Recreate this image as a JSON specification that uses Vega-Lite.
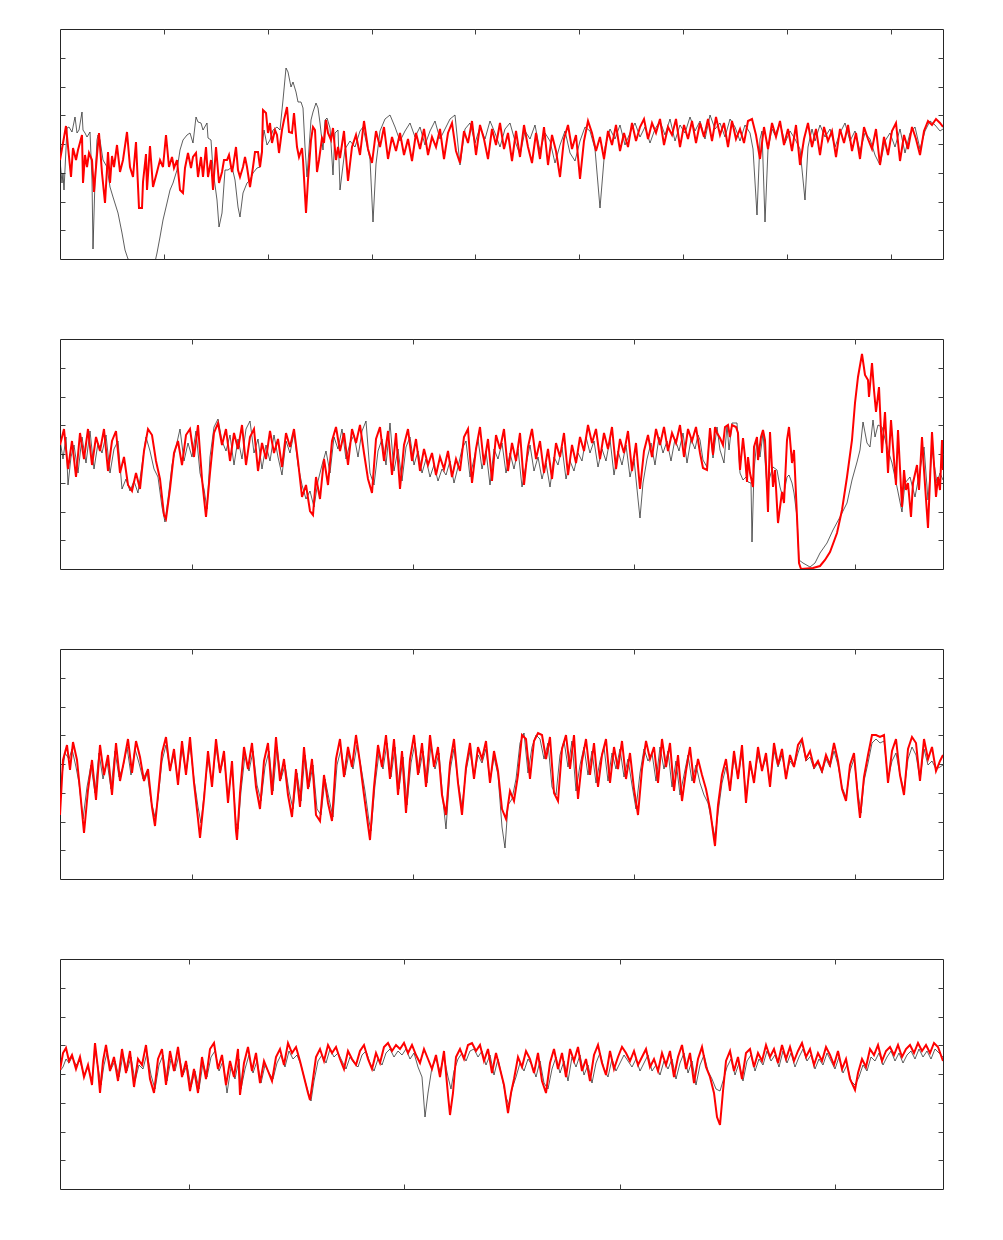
{
"$schema":"https://vega.github.io/schema/vega-lite/v6.json",
"autosize":{"type":"pad"},
"padding":{"left":59,"top":28,"right":0,"bottom":0},
"background":"white",
"spacing":78,
"config":{"view":{"stroke":"#262626","strokeWidth":1},"axis":{"labels":false,"domain":false,"grid":false,"ticks":true,"tickSize":-5,"tickColor":"#404040","tickWidth":1,"minExtent":0}},
"datasets":{
"k1":[{"x":0,"h":99},{"x":2,"h":76},{"x":3,"h":86},{"x":4,"h":69},{"x":7,"h":131},{"x":9,"h":132},{"x":12,"h":127},{"x":15,"h":142},{"x":17,"h":126},{"x":19,"h":129},{"x":22,"h":147},{"x":23,"h":129},{"x":25,"h":126},{"x":27,"h":122},{"x":30,"h":127},{"x":32,"h":79},{"x":33,"h":10},{"x":35,"h":79},{"x":37,"h":119},{"x":38,"h":124},{"x":40,"h":119},{"x":43,"h":99},{"x":47,"h":92},{"x":50,"h":72},{"x":53,"h":62},{"x":58,"h":46},{"x":62,"h":26},{"x":65,"h":9},{"x":68,"h":0},{"x":75,"h":-5},{"x":85,"h":-6},{"x":95,"h":-3},{"x":97,"h":6},{"x":100,"h":22},{"x":103,"h":39},{"x":107,"h":56},{"x":110,"h":69},{"x":113,"h":76},{"x":117,"h":89},{"x":120,"h":109},{"x":123,"h":119},{"x":127,"h":124},{"x":130,"h":126},{"x":133,"h":116},{"x":136,"h":142},{"x":138,"h":137},{"x":141,"h":136},{"x":143,"h":129},{"x":147,"h":136},{"x":148,"h":121},{"x":151,"h":119},{"x":153,"h":89},{"x":157,"h":59},{"x":159,"h":32},{"x":162,"h":46},{"x":165,"h":89},{"x":168,"h":89},{"x":172,"h":92},{"x":175,"h":79},{"x":178,"h":52},{"x":180,"h":42},{"x":183,"h":66},{"x":187,"h":76},{"x":190,"h":79},{"x":193,"h":86},{"x":197,"h":91},{"x":200,"h":92},{"x":202,"h":112},{"x":204,"h":129},{"x":207,"h":114},{"x":210,"h":119},{"x":213,"h":129},{"x":217,"h":132},{"x":220,"h":129},{"x":223,"h":159},{"x":226,"h":191},{"x":228,"h":187},{"x":231,"h":172},{"x":233,"h":177},{"x":236,"h":167},{"x":238,"h":157},{"x":241,"h":157},{"x":243,"h":151},{"x":245,"h":112},{"x":247,"h":82},{"x":248,"h":96},{"x":251,"h":139},{"x":253,"h":147},{"x":256,"h":156},{"x":258,"h":151},{"x":260,"h":136},{"x":263,"h":109},{"x":265,"h":139},{"x":267,"h":141},{"x":270,"h":131},{"x":273,"h":84},{"x":275,"h":126},{"x":278,"h":129},{"x":280,"h":69},{"x":285,"h":110},{"x":290,"h":118},{"x":295,"h":112},{"x":300,"h":128},{"x":303,"h":132},{"x":306,"h":118},{"x":310,"h":100},{"x":313,"h":37},{"x":316,"h":95},{"x":320,"h":128},{"x":325,"h":140},{"x":330,"h":144},{"x":335,"h":132},{"x":340,"h":118},{"x":345,"h":128},{"x":350,"h":136},{"x":355,"h":122},{"x":360,"h":132},{"x":365,"h":114},{"x":370,"h":128},{"x":375,"h":138},{"x":380,"h":120},{"x":385,"h":130},{"x":390,"h":140},{"x":395,"h":144},{"x":400,"h":94},{"x":405,"h":130},{"x":410,"h":136},{"x":415,"h":116},{"x":420,"h":132},{"x":425,"h":120},{"x":430,"h":138},{"x":435,"h":126},{"x":440,"h":112},{"x":445,"h":130},{"x":450,"h":136},{"x":455,"h":118},{"x":460,"h":104},{"x":465,"h":128},{"x":470,"h":120},{"x":475,"h":134},{"x":480,"h":108},{"x":485,"h":126},{"x":490,"h":118},{"x":495,"h":96},{"x":500,"h":114},{"x":505,"h":128},{"x":510,"h":106},{"x":515,"h":98},{"x":520,"h":118},{"x":525,"h":132},{"x":530,"h":128},{"x":535,"h":110},{"x":540,"h":51},{"x":545,"h":112},{"x":550,"h":130},{"x":555,"h":120},{"x":560,"h":134},{"x":565,"h":114},{"x":570,"h":126},{"x":575,"h":136},{"x":580,"h":122},{"x":585,"h":132},{"x":590,"h":116},{"x":595,"h":130},{"x":600,"h":138},{"x":605,"h":124},{"x":610,"h":140},{"x":615,"h":118},{"x":620,"h":134},{"x":625,"h":126},{"x":630,"h":142},{"x":635,"h":128},{"x":640,"h":138},{"x":645,"h":120},{"x":650,"h":144},{"x":655,"h":130},{"x":660,"h":136},{"x":665,"h":122},{"x":670,"h":140},{"x":675,"h":132},{"x":680,"h":118},{"x":685,"h":134},{"x":690,"h":126},{"x":693,"h":110},{"x":697,"h":44},{"x":700,"h":120},{"x":702,"h":128},{"x":705,"h":37},{"x":708,"h":110},{"x":712,"h":130},{"x":715,"h":124},{"x":720,"h":136},{"x":725,"h":116},{"x":730,"h":128},{"x":735,"h":120},{"x":740,"h":110},{"x":745,"h":59},{"x":748,"h":112},{"x":752,"h":130},{"x":755,"h":118},{"x":760,"h":134},{"x":765,"h":122},{"x":770,"h":130},{"x":775,"h":112},{"x":780,"h":126},{"x":785,"h":136},{"x":790,"h":118},{"x":795,"h":128},{"x":800,"h":108},{"x":805,"h":126},{"x":810,"h":120},{"x":815,"h":104},{"x":820,"h":94},{"x":825,"h":118},{"x":830,"h":126},{"x":835,"h":112},{"x":840,"h":130},{"x":845,"h":106},{"x":850,"h":126},{"x":855,"h":132},{"x":860,"h":110},{"x":865,"h":128},{"x":870,"h":138},{"x":875,"h":134},{"x":880,"h":128},{"x":883,"h":130}],
"r1":[{"x":0,"h":99},{"x":6,"h":133},{"x":11,"h":82},{"x":13,"h":111},{"x":16,"h":99},{"x":18,"h":109},{"x":22,"h":124},{"x":23,"h":76},{"x":25,"h":104},{"x":27,"h":92},{"x":29,"h":106},{"x":32,"h":99},{"x":34,"h":67},{"x":37,"h":104},{"x":39,"h":126},{"x":42,"h":86},{"x":45,"h":56},{"x":48,"h":107},{"x":50,"h":76},{"x":52,"h":103},{"x":54,"h":92},{"x":57,"h":114},{"x":60,"h":87},{"x":63,"h":99},{"x":67,"h":127},{"x":70,"h":92},{"x":73,"h":82},{"x":76,"h":117},{"x":79,"h":51},{"x":82,"h":51},{"x":83,"h":77},{"x":86,"h":105},{"x":87,"h":69},{"x":90,"h":113},{"x":93,"h":72},{"x":97,"h":87},{"x":100,"h":99},{"x":103,"h":92},{"x":106,"h":124},{"x":109,"h":92},{"x":112,"h":102},{"x":114,"h":91},{"x":117,"h":99},{"x":120,"h":69},{"x":123,"h":66},{"x":125,"h":91},{"x":128,"h":106},{"x":131,"h":91},{"x":133,"h":102},{"x":136,"h":106},{"x":138,"h":82},{"x":141,"h":102},{"x":143,"h":82},{"x":146,"h":112},{"x":148,"h":82},{"x":151,"h":99},{"x":153,"h":69},{"x":156,"h":112},{"x":159,"h":76},{"x":162,"h":87},{"x":164,"h":99},{"x":167,"h":99},{"x":169,"h":104},{"x":172,"h":87},{"x":173,"h":92},{"x":176,"h":112},{"x":178,"h":89},{"x":180,"h":82},{"x":183,"h":92},{"x":185,"h":102},{"x":187,"h":92},{"x":190,"h":72},{"x":193,"h":92},{"x":195,"h":107},{"x":198,"h":107},{"x":200,"h":92},{"x":202,"h":107},{"x":203,"h":149},{"x":206,"h":146},{"x":208,"h":126},{"x":210,"h":136},{"x":212,"h":116},{"x":215,"h":129},{"x":217,"h":124},{"x":219,"h":106},{"x":222,"h":129},{"x":224,"h":139},{"x":227,"h":152},{"x":229,"h":127},{"x":232,"h":126},{"x":234,"h":146},{"x":237,"h":112},{"x":239,"h":102},{"x":242,"h":111},{"x":243,"h":99},{"x":246,"h":46},{"x":248,"h":79},{"x":251,"h":119},{"x":253,"h":132},{"x":255,"h":129},{"x":257,"h":87},{"x":259,"h":99},{"x":262,"h":121},{"x":264,"h":116},{"x":266,"h":139},{"x":268,"h":126},{"x":271,"h":119},{"x":273,"h":131},{"x":276,"h":99},{"x":278,"h":112},{"x":280,"h":101},{"x":284,"h":128},{"x":288,"h":78},{"x":292,"h":112},{"x":296,"h":124},{"x":300,"h":104},{"x":304,"h":138},{"x":308,"h":110},{"x":312,"h":96},{"x":316,"h":128},{"x":320,"h":112},{"x":324,"h":132},{"x":328,"h":100},{"x":332,"h":122},{"x":336,"h":108},{"x":340,"h":126},{"x":344,"h":104},{"x":348,"h":120},{"x":352,"h":98},{"x":356,"h":126},{"x":360,"h":110},{"x":364,"h":130},{"x":368,"h":104},{"x":372,"h":122},{"x":376,"h":112},{"x":380,"h":130},{"x":384,"h":100},{"x":388,"h":126},{"x":392,"h":136},{"x":396,"h":108},{"x":400,"h":96},{"x":404,"h":128},{"x":408,"h":116},{"x":412,"h":138},{"x":416,"h":104},{"x":420,"h":134},{"x":424,"h":120},{"x":428,"h":100},{"x":432,"h":130},{"x":436,"h":114},{"x":440,"h":136},{"x":444,"h":110},{"x":448,"h":126},{"x":452,"h":98},{"x":456,"h":128},{"x":460,"h":102},{"x":464,"h":134},{"x":468,"h":112},{"x":472,"h":96},{"x":476,"h":126},{"x":480,"h":100},{"x":484,"h":132},{"x":488,"h":94},{"x":492,"h":124},{"x":496,"h":108},{"x":500,"h":82},{"x":504,"h":120},{"x":508,"h":134},{"x":512,"h":110},{"x":516,"h":124},{"x":520,"h":80},{"x":524,"h":118},{"x":528,"h":138},{"x":532,"h":126},{"x":536,"h":108},{"x":540,"h":122},{"x":544,"h":100},{"x":548,"h":128},{"x":552,"h":114},{"x":556,"h":134},{"x":560,"h":108},{"x":564,"h":126},{"x":568,"h":112},{"x":572,"h":136},{"x":576,"h":118},{"x":580,"h":132},{"x":584,"h":140},{"x":588,"h":120},{"x":592,"h":136},{"x":596,"h":126},{"x":600,"h":140},{"x":604,"h":114},{"x":608,"h":132},{"x":612,"h":124},{"x":616,"h":140},{"x":620,"h":112},{"x":624,"h":134},{"x":628,"h":120},{"x":632,"h":138},{"x":636,"h":116},{"x":640,"h":136},{"x":644,"h":122},{"x":648,"h":140},{"x":652,"h":118},{"x":656,"h":142},{"x":660,"h":124},{"x":664,"h":136},{"x":668,"h":112},{"x":672,"h":138},{"x":676,"h":120},{"x":680,"h":130},{"x":684,"h":116},{"x":688,"h":138},{"x":692,"h":140},{"x":696,"h":124},{"x":700,"h":100},{"x":704,"h":132},{"x":708,"h":110},{"x":712,"h":136},{"x":716,"h":122},{"x":720,"h":138},{"x":724,"h":114},{"x":728,"h":130},{"x":732,"h":108},{"x":736,"h":134},{"x":740,"h":94},{"x":744,"h":120},{"x":748,"h":136},{"x":752,"h":112},{"x":756,"h":130},{"x":760,"h":104},{"x":764,"h":132},{"x":768,"h":118},{"x":772,"h":128},{"x":776,"h":102},{"x":780,"h":130},{"x":784,"h":116},{"x":788,"h":134},{"x":792,"h":108},{"x":796,"h":126},{"x":800,"h":100},{"x":804,"h":132},{"x":808,"h":120},{"x":812,"h":110},{"x":816,"h":130},{"x":820,"h":94},{"x":824,"h":122},{"x":828,"h":104},{"x":832,"h":128},{"x":836,"h":136},{"x":840,"h":98},{"x":844,"h":124},{"x":848,"h":110},{"x":852,"h":132},{"x":856,"h":120},{"x":860,"h":104},{"x":864,"h":128},{"x":868,"h":138},{"x":872,"h":134},{"x":876,"h":140},{"x":880,"h":136},{"x":883,"h":132}],
"k2":[{"x":0,"h":129},{"x":3,"h":110},{"x":6,"h":132},{"x":8,"h":84},{"x":11,"h":112},{"x":14,"h":124},{"x":18,"h":96},{"x":22,"h":132},{"x":26,"h":106},{"x":30,"h":138},{"x":34,"h":100},{"x":38,"h":126},{"x":42,"h":116},{"x":46,"h":134},{"x":50,"h":96},{"x":54,"h":120},{"x":58,"h":128},{"x":62,"h":80},{"x":66,"h":90},{"x":70,"h":78},{"x":74,"h":88},{"x":78,"h":76},{"x":82,"h":104},{"x":86,"h":132},{"x":90,"h":118},{"x":94,"h":100},{"x":98,"h":92},{"x":102,"h":62},{"x":105,"h":47},{"x":108,"h":70},{"x":112,"h":104},{"x":116,"h":122},{"x":120,"h":140},{"x":124,"h":108},{"x":128,"h":126},{"x":132,"h":112},{"x":136,"h":138},{"x":140,"h":96},{"x":144,"h":80},{"x":147,"h":60},{"x":150,"h":112},{"x":154,"h":142},{"x":158,"h":150},{"x":162,"h":128},{"x":166,"h":118},{"x":170,"h":134},{"x":174,"h":104},{"x":178,"h":130},{"x":182,"h":110},{"x":186,"h":140},{"x":190,"h":148},{"x":194,"h":116},{"x":198,"h":130},{"x":202,"h":100},{"x":206,"h":124},{"x":210,"h":108},{"x":214,"h":134},{"x":218,"h":112},{"x":222,"h":94},{"x":226,"h":128},{"x":230,"h":116},{"x":234,"h":136},{"x":238,"h":104},{"x":242,"h":84},{"x":246,"h":70},{"x":250,"h":78},{"x":254,"h":62},{"x":258,"h":88},{"x":262,"h":104},{"x":266,"h":118},{"x":270,"h":96},{"x":274,"h":132},{"x":278,"h":120},{"x":282,"h":140},{"x":286,"h":110},{"x":290,"h":126},{"x":294,"h":134},{"x":298,"h":112},{"x":302,"h":138},{"x":306,"h":148},{"x":310,"h":96},{"x":314,"h":84},{"x":318,"h":118},{"x":322,"h":130},{"x":326,"h":104},{"x":330,"h":146},{"x":334,"h":98},{"x":338,"h":120},{"x":342,"h":88},{"x":346,"h":122},{"x":350,"h":132},{"x":354,"h":104},{"x":358,"h":118},{"x":362,"h":96},{"x":366,"h":110},{"x":370,"h":92},{"x":374,"h":104},{"x":378,"h":88},{"x":382,"h":100},{"x":386,"h":94},{"x":390,"h":108},{"x":394,"h":86},{"x":398,"h":102},{"x":402,"h":120},{"x":406,"h":128},{"x":410,"h":92},{"x":414,"h":110},{"x":418,"h":130},{"x":422,"h":100},{"x":426,"h":118},{"x":430,"h":84},{"x":434,"h":120},{"x":438,"h":110},{"x":442,"h":126},{"x":446,"h":96},{"x":450,"h":116},{"x":454,"h":100},{"x":458,"h":120},{"x":462,"h":82},{"x":466,"h":104},{"x":470,"h":124},{"x":474,"h":98},{"x":478,"h":112},{"x":482,"h":90},{"x":486,"h":106},{"x":490,"h":82},{"x":494,"h":112},{"x":498,"h":104},{"x":502,"h":122},{"x":506,"h":90},{"x":510,"h":108},{"x":514,"h":98},{"x":518,"h":116},{"x":522,"h":108},{"x":526,"h":132},{"x":530,"h":116},{"x":534,"h":128},{"x":538,"h":102},{"x":542,"h":120},{"x":546,"h":108},{"x":550,"h":130},{"x":554,"h":94},{"x":558,"h":118},{"x":562,"h":104},{"x":566,"h":124},{"x":570,"h":92},{"x":574,"h":110},{"x":578,"h":70},{"x":580,"h":51},{"x":583,"h":86},{"x":587,"h":110},{"x":591,"h":126},{"x":595,"h":104},{"x":599,"h":132},{"x":603,"h":116},{"x":607,"h":128},{"x":611,"h":108},{"x":615,"h":130},{"x":619,"h":118},{"x":623,"h":136},{"x":627,"h":106},{"x":631,"h":130},{"x":635,"h":120},{"x":638,"h":134},{"x":640,"h":129},{"x":643,"h":109},{"x":647,"h":102},{"x":650,"h":139},{"x":653,"h":111},{"x":657,"h":142},{"x":660,"h":119},{"x":664,"h":106},{"x":667,"h":144},{"x":669,"h":119},{"x":672,"h":146},{"x":677,"h":146},{"x":680,"h":96},{"x":683,"h":89},{"x":686,"h":92},{"x":688,"h":87},{"x":691,"h":86},{"x":692,"h":27},{"x":694,"h":99},{"x":697,"h":129},{"x":700,"h":112},{"x":703,"h":136},{"x":707,"h":82},{"x":711,"h":96},{"x":713,"h":102},{"x":717,"h":99},{"x":720,"h":82},{"x":723,"h":71},{"x":727,"h":92},{"x":729,"h":94},{"x":732,"h":86},{"x":734,"h":76},{"x":737,"h":52},{"x":739,"h":9},{"x":743,"h":6},{"x":750,"h":2},{"x":755,"h":6},{"x":760,"h":16},{"x":767,"h":26},{"x":773,"h":39},{"x":780,"h":52},{"x":787,"h":66},{"x":792,"h":89},{"x":797,"h":107},{"x":800,"h":119},{"x":803,"h":147},{"x":807,"h":126},{"x":810,"h":122},{"x":813,"h":149},{"x":815,"h":132},{"x":818,"h":144},{"x":822,"h":142},{"x":827,"h":122},{"x":832,"h":106},{"x":837,"h":82},{"x":842,"h":57},{"x":845,"h":86},{"x":850,"h":92},{"x":855,"h":72},{"x":860,"h":99},{"x":864,"h":122},{"x":868,"h":69},{"x":872,"h":119},{"x":877,"h":86},{"x":880,"h":96},{"x":883,"h":89}],
"r2":[{"x":0,"h":124},{"x":4,"h":140},{"x":8,"h":100},{"x":12,"h":128},{"x":16,"h":92},{"x":20,"h":136},{"x":24,"h":110},{"x":28,"h":140},{"x":32,"h":104},{"x":36,"h":132},{"x":40,"h":118},{"x":44,"h":140},{"x":48,"h":98},{"x":52,"h":128},{"x":56,"h":138},{"x":60,"h":96},{"x":64,"h":112},{"x":68,"h":84},{"x":72,"h":78},{"x":76,"h":96},{"x":80,"h":80},{"x":84,"h":118},{"x":88,"h":140},{"x":92,"h":134},{"x":96,"h":108},{"x":100,"h":90},{"x":104,"h":54},{"x":106,"h":50},{"x":110,"h":80},{"x":114,"h":116},{"x":118,"h":128},{"x":122,"h":104},{"x":126,"h":134},{"x":130,"h":140},{"x":134,"h":112},{"x":138,"h":144},{"x":142,"h":90},{"x":146,"h":52},{"x":150,"h":96},{"x":154,"h":136},{"x":158,"h":146},{"x":162,"h":124},{"x":166,"h":140},{"x":170,"h":108},{"x":174,"h":136},{"x":178,"h":120},{"x":182,"h":144},{"x":186,"h":104},{"x":190,"h":132},{"x":194,"h":140},{"x":198,"h":98},{"x":202,"h":126},{"x":206,"h":110},{"x":210,"h":138},{"x":214,"h":116},{"x":218,"h":130},{"x":222,"h":102},{"x":226,"h":136},{"x":230,"h":122},{"x":234,"h":140},{"x":238,"h":108},{"x":242,"h":72},{"x":246,"h":84},{"x":250,"h":58},{"x":253,"h":54},{"x":256,"h":92},{"x":260,"h":70},{"x":264,"h":110},{"x":268,"h":84},{"x":272,"h":128},{"x":276,"h":142},{"x":280,"h":118},{"x":284,"h":136},{"x":288,"h":104},{"x":292,"h":140},{"x":296,"h":126},{"x":300,"h":144},{"x":304,"h":116},{"x":308,"h":90},{"x":312,"h":76},{"x":316,"h":130},{"x":320,"h":142},{"x":324,"h":108},{"x":328,"h":138},{"x":332,"h":94},{"x":336,"h":136},{"x":340,"h":80},{"x":344,"h":124},{"x":348,"h":140},{"x":352,"h":108},{"x":356,"h":130},{"x":360,"h":98},{"x":364,"h":120},{"x":368,"h":104},{"x":372,"h":116},{"x":376,"h":94},{"x":380,"h":112},{"x":384,"h":100},{"x":388,"h":118},{"x":392,"h":92},{"x":396,"h":110},{"x":400,"h":98},{"x":404,"h":132},{"x":408,"h":140},{"x":412,"h":86},{"x":416,"h":120},{"x":420,"h":142},{"x":424,"h":104},{"x":428,"h":130},{"x":432,"h":88},{"x":436,"h":134},{"x":440,"h":120},{"x":444,"h":140},{"x":448,"h":98},{"x":452,"h":126},{"x":456,"h":108},{"x":460,"h":136},{"x":464,"h":84},{"x":468,"h":122},{"x":472,"h":140},{"x":476,"h":110},{"x":480,"h":128},{"x":484,"h":96},{"x":488,"h":120},{"x":492,"h":90},{"x":496,"h":126},{"x":500,"h":112},{"x":504,"h":136},{"x":508,"h":94},{"x":512,"h":124},{"x":516,"h":106},{"x":520,"h":132},{"x":524,"h":118},{"x":528,"h":144},{"x":532,"h":126},{"x":536,"h":140},{"x":540,"h":110},{"x":544,"h":136},{"x":548,"h":120},{"x":552,"h":142},{"x":556,"h":100},{"x":560,"h":130},{"x":564,"h":116},{"x":568,"h":138},{"x":572,"h":98},{"x":576,"h":126},{"x":580,"h":80},{"x":584,"h":118},{"x":588,"h":134},{"x":592,"h":112},{"x":596,"h":140},{"x":600,"h":124},{"x":604,"h":142},{"x":608,"h":118},{"x":612,"h":136},{"x":616,"h":126},{"x":620,"h":144},{"x":624,"h":112},{"x":628,"h":140},{"x":632,"h":128},{"x":636,"h":142},{"x":640,"h":116},{"x":643,"h":101},{"x":647,"h":99},{"x":650,"h":141},{"x":653,"h":114},{"x":655,"h":142},{"x":657,"h":136},{"x":660,"h":131},{"x":663,"h":124},{"x":665,"h":142},{"x":668,"h":144},{"x":670,"h":132},{"x":672,"h":144},{"x":676,"h":142},{"x":678,"h":136},{"x":680,"h":99},{"x":683,"h":131},{"x":685,"h":112},{"x":687,"h":87},{"x":688,"h":112},{"x":690,"h":96},{"x":693,"h":82},{"x":694,"h":122},{"x":697,"h":132},{"x":698,"h":109},{"x":701,"h":132},{"x":703,"h":139},{"x":705,"h":129},{"x":708,"h":57},{"x":710,"h":137},{"x":713,"h":82},{"x":715,"h":99},{"x":718,"h":46},{"x":722,"h":77},{"x":724,"h":66},{"x":727,"h":129},{"x":729,"h":142},{"x":732,"h":106},{"x":734,"h":119},{"x":737,"h":52},{"x":739,"h":6},{"x":741,"h":0},{"x":753,"h":1},{"x":760,"h":3},{"x":765,"h":9},{"x":770,"h":17},{"x":777,"h":36},{"x":782,"h":59},{"x":787,"h":92},{"x":792,"h":129},{"x":795,"h":166},{"x":798,"h":192},{"x":802,"h":215},{"x":805,"h":194},{"x":808,"h":189},{"x":809,"h":172},{"x":812,"h":206},{"x":814,"h":179},{"x":816,"h":157},{"x":819,"h":182},{"x":822,"h":116},{"x":825,"h":157},{"x":828,"h":96},{"x":831,"h":149},{"x":833,"h":122},{"x":836,"h":84},{"x":838,"h":139},{"x":842,"h":62},{"x":844,"h":99},{"x":846,"h":79},{"x":848,"h":86},{"x":851,"h":52},{"x":853,"h":86},{"x":857,"h":104},{"x":859,"h":79},{"x":862,"h":132},{"x":864,"h":99},{"x":868,"h":41},{"x":872,"h":137},{"x":876,"h":72},{"x":878,"h":92},{"x":880,"h":79},{"x":882,"h":129},{"x":883,"h":99}],
"k3":[{"x":0,"h":90},{"x":2,"h":104},{"x":5,"h":126},{"x":9,"h":120},{"x":12,"h":130},{"x":16,"h":112},{"x":19,"h":96},{"x":23,"h":60},{"x":27,"h":92},{"x":31,"h":114},{"x":35,"h":86},{"x":39,"h":126},{"x":43,"h":100},{"x":47,"h":118},{"x":51,"h":90},{"x":55,"h":128},{"x":59,"h":102},{"x":63,"h":112},{"x":67,"h":132},{"x":71,"h":104},{"x":75,"h":130},{"x":79,"h":116},{"x":83,"h":100},{"x":87,"h":108},{"x":91,"h":78},{"x":95,"h":62},{"x":98,"h":80},{"x":102,"h":118},{"x":106,"h":134},{"x":110,"h":110},{"x":114,"h":124},{"x":118,"h":98},{"x":122,"h":130},{"x":126,"h":106},{"x":130,"h":134},{"x":134,"h":100},{"x":138,"h":72},{"x":141,"h":56},{"x":144,"h":84},{"x":148,"h":120},{"x":152,"h":96},{"x":156,"h":132},{"x":160,"h":106},{"x":164,"h":122},{"x":168,"h":82},{"x":172,"h":112},{"x":176,"h":56},{"x":178,"h":50},{"x":181,"h":88},{"x":185,"h":124},{"x":189,"h":108},{"x":193,"h":128},{"x":197,"h":94},{"x":201,"h":78},{"x":205,"h":112},{"x":209,"h":128},{"x":213,"h":88},{"x":217,"h":132},{"x":221,"h":100},{"x":225,"h":114},{"x":229,"h":88},{"x":233,"h":70},{"x":237,"h":106},{"x":241,"h":78},{"x":245,"h":124},{"x":249,"h":92},{"x":253,"h":114},{"x":257,"h":70},{"x":261,"h":64},{"x":265,"h":100},{"x":269,"h":80},{"x":273,"h":62},{"x":277,"h":114},{"x":281,"h":130},{"x":285,"h":104},{"x":289,"h":126},{"x":293,"h":110},{"x":297,"h":134},{"x":301,"h":112},{"x":305,"h":88},{"x":309,"h":58},{"x":311,"h":48},{"x":315,"h":94},{"x":319,"h":126},{"x":323,"h":110},{"x":327,"h":136},{"x":331,"h":102},{"x":335,"h":132},{"x":339,"h":90},{"x":343,"h":122},{"x":347,"h":74},{"x":351,"h":116},{"x":355,"h":136},{"x":359,"h":106},{"x":363,"h":128},{"x":367,"h":96},{"x":371,"h":134},{"x":375,"h":110},{"x":379,"h":126},{"x":383,"h":78},{"x":386,"h":50},{"x":390,"h":108},{"x":394,"h":130},{"x":398,"h":98},{"x":402,"h":72},{"x":406,"h":108},{"x":410,"h":128},{"x":414,"h":102},{"x":418,"h":124},{"x":422,"h":116},{"x":426,"h":130},{"x":430,"h":98},{"x":434,"h":122},{"x":438,"h":104},{"x":442,"h":52},{"x":445,"h":31},{"x":448,"h":74},{"x":452,"h":80},{"x":456,"h":100},{"x":460,"h":136},{"x":464,"h":146},{"x":468,"h":106},{"x":472,"h":132},{"x":476,"h":144},{"x":480,"h":140},{"x":484,"h":120},{"x":488,"h":136},{"x":492,"h":92},{"x":496,"h":84},{"x":500,"h":124},{"x":504,"h":138},{"x":508,"h":112},{"x":512,"h":138},{"x":516,"h":88},{"x":520,"h":114},{"x":524,"h":132},{"x":528,"h":104},{"x":532,"h":128},{"x":536,"h":96},{"x":540,"h":118},{"x":544,"h":132},{"x":548,"h":98},{"x":552,"h":126},{"x":556,"h":110},{"x":560,"h":130},{"x":564,"h":102},{"x":568,"h":120},{"x":572,"h":94},{"x":576,"h":70},{"x":580,"h":106},{"x":584,"h":130},{"x":588,"h":118},{"x":592,"h":126},{"x":596,"h":98},{"x":600,"h":132},{"x":604,"h":110},{"x":608,"h":128},{"x":612,"h":92},{"x":616,"h":118},{"x":620,"h":84},{"x":624,"h":104},{"x":628,"h":124},{"x":632,"h":98},{"x":636,"h":114},{"x":640,"h":96},{"x":644,"h":84},{"x":648,"h":76},{"x":652,"h":56},{"x":655,"h":42},{"x":658,"h":66},{"x":662,"h":96},{"x":666,"h":112},{"x":670,"h":90},{"x":674,"h":120},{"x":678,"h":102},{"x":682,"h":126},{"x":686,"h":84},{"x":690,"h":112},{"x":694,"h":100},{"x":698,"h":124},{"x":702,"h":110},{"x":706,"h":120},{"x":710,"h":98},{"x":714,"h":128},{"x":718,"h":112},{"x":722,"h":124},{"x":726,"h":104},{"x":730,"h":118},{"x":734,"h":112},{"x":738,"h":126},{"x":742,"h":138},{"x":746,"h":118},{"x":750,"h":122},{"x":754,"h":110},{"x":758,"h":116},{"x":762,"h":106},{"x":766,"h":120},{"x":770,"h":112},{"x":774,"h":128},{"x":778,"h":114},{"x":782,"h":92},{"x":786,"h":82},{"x":790,"h":108},{"x":794,"h":120},{"x":798,"h":86},{"x":801,"h":66},{"x":804,"h":98},{"x":808,"h":116},{"x":812,"h":136},{"x":816,"h":140},{"x":820,"h":136},{"x":824,"h":138},{"x":828,"h":100},{"x":832,"h":118},{"x":836,"h":126},{"x":840,"h":104},{"x":844,"h":88},{"x":848,"h":120},{"x":852,"h":132},{"x":856,"h":124},{"x":860,"h":100},{"x":864,"h":130},{"x":868,"h":114},{"x":872,"h":118},{"x":876,"h":110},{"x":880,"h":112},{"x":883,"h":114}],
"r3":[{"x":0,"h":64},{"x":3,"h":119},{"x":7,"h":134},{"x":10,"h":109},{"x":13,"h":137},{"x":17,"h":119},{"x":20,"h":89},{"x":24,"h":46},{"x":28,"h":89},{"x":32,"h":119},{"x":36,"h":79},{"x":40,"h":134},{"x":44,"h":104},{"x":48,"h":124},{"x":52,"h":84},{"x":56,"h":136},{"x":60,"h":98},{"x":64,"h":118},{"x":68,"h":140},{"x":72,"h":106},{"x":76,"h":138},{"x":80,"h":122},{"x":84,"h":98},{"x":88,"h":110},{"x":92,"h":72},{"x":95,"h":53},{"x":98,"h":84},{"x":102,"h":126},{"x":106,"h":142},{"x":110,"h":108},{"x":114,"h":130},{"x":118,"h":94},{"x":122,"h":138},{"x":126,"h":104},{"x":130,"h":142},{"x":134,"h":96},{"x":138,"h":60},{"x":140,"h":41},{"x":144,"h":80},{"x":148,"h":128},{"x":152,"h":92},{"x":156,"h":140},{"x":160,"h":106},{"x":164,"h":128},{"x":168,"h":76},{"x":172,"h":118},{"x":176,"h":48},{"x":177,"h":39},{"x":180,"h":86},{"x":184,"h":132},{"x":188,"h":110},{"x":192,"h":136},{"x":196,"h":92},{"x":200,"h":70},{"x":204,"h":118},{"x":208,"h":136},{"x":212,"h":84},{"x":216,"h":142},{"x":220,"h":98},{"x":224,"h":120},{"x":228,"h":84},{"x":232,"h":62},{"x":236,"h":110},{"x":240,"h":72},{"x":244,"h":132},{"x":248,"h":90},{"x":252,"h":120},{"x":256,"h":64},{"x":260,"h":58},{"x":264,"h":104},{"x":268,"h":76},{"x":272,"h":58},{"x":276,"h":120},{"x":280,"h":140},{"x":284,"h":102},{"x":288,"h":132},{"x":292,"h":112},{"x":296,"h":144},{"x":300,"h":116},{"x":304,"h":84},{"x":308,"h":54},{"x":310,"h":39},{"x":314,"h":92},{"x":318,"h":134},{"x":322,"h":112},{"x":326,"h":144},{"x":330,"h":100},{"x":334,"h":140},{"x":338,"h":84},{"x":342,"h":128},{"x":346,"h":66},{"x":350,"h":120},{"x":354,"h":144},{"x":358,"h":104},{"x":362,"h":136},{"x":366,"h":92},{"x":370,"h":144},{"x":374,"h":112},{"x":378,"h":132},{"x":382,"h":84},{"x":386,"h":64},{"x":390,"h":116},{"x":394,"h":140},{"x":398,"h":96},{"x":402,"h":64},{"x":406,"h":112},{"x":410,"h":136},{"x":414,"h":100},{"x":418,"h":132},{"x":422,"h":120},{"x":426,"h":138},{"x":430,"h":96},{"x":434,"h":128},{"x":438,"h":108},{"x":442,"h":70},{"x":446,"h":60},{"x":450,"h":88},{"x":454,"h":78},{"x":458,"h":104},{"x":462,"h":144},{"x":466,"h":140},{"x":470,"h":100},{"x":474,"h":138},{"x":478,"h":146},{"x":482,"h":144},{"x":486,"h":120},{"x":490,"h":142},{"x":494,"h":86},{"x":498,"h":78},{"x":502,"h":130},{"x":506,"h":144},{"x":510,"h":110},{"x":514,"h":144},{"x":518,"h":80},{"x":522,"h":118},{"x":526,"h":140},{"x":530,"h":104},{"x":534,"h":136},{"x":538,"h":92},{"x":542,"h":124},{"x":546,"h":140},{"x":550,"h":96},{"x":554,"h":132},{"x":558,"h":110},{"x":562,"h":138},{"x":566,"h":100},{"x":570,"h":126},{"x":574,"h":90},{"x":578,"h":64},{"x":582,"h":110},{"x":586,"h":138},{"x":590,"h":120},{"x":594,"h":132},{"x":598,"h":96},{"x":602,"h":140},{"x":606,"h":112},{"x":610,"h":136},{"x":614,"h":88},{"x":618,"h":124},{"x":622,"h":78},{"x":626,"h":108},{"x":630,"h":132},{"x":634,"h":96},{"x":638,"h":120},{"x":642,"h":104},{"x":646,"h":90},{"x":650,"h":70},{"x":654,"h":40},{"x":655,"h":33},{"x":658,"h":74},{"x":662,"h":104},{"x":666,"h":120},{"x":670,"h":88},{"x":674,"h":128},{"x":678,"h":100},{"x":682,"h":134},{"x":686,"h":76},{"x":690,"h":118},{"x":694,"h":96},{"x":698,"h":132},{"x":702,"h":108},{"x":706,"h":126},{"x":710,"h":92},{"x":714,"h":136},{"x":718,"h":114},{"x":722,"h":130},{"x":726,"h":100},{"x":730,"h":124},{"x":734,"h":112},{"x":738,"h":134},{"x":742,"h":140},{"x":746,"h":120},{"x":750,"h":128},{"x":754,"h":112},{"x":758,"h":118},{"x":762,"h":108},{"x":766,"h":124},{"x":770,"h":114},{"x":774,"h":136},{"x":778,"h":118},{"x":782,"h":90},{"x":786,"h":78},{"x":790,"h":114},{"x":794,"h":126},{"x":798,"h":80},{"x":800,"h":61},{"x":804,"h":102},{"x":808,"h":124},{"x":812,"h":144},{"x":816,"h":144},{"x":820,"h":142},{"x":824,"h":144},{"x":828,"h":96},{"x":832,"h":128},{"x":836,"h":140},{"x":840,"h":104},{"x":844,"h":84},{"x":848,"h":130},{"x":852,"h":142},{"x":856,"h":136},{"x":860,"h":98},{"x":864,"h":140},{"x":868,"h":120},{"x":872,"h":132},{"x":876,"h":108},{"x":880,"h":118},{"x":883,"h":124}],
"k4":[{"x":0,"h":118},{"x":3,"h":122},{"x":6,"h":130},{"x":9,"h":126},{"x":12,"h":132},{"x":16,"h":124},{"x":20,"h":128},{"x":24,"h":114},{"x":28,"h":122},{"x":32,"h":108},{"x":35,"h":138},{"x":38,"h":122},{"x":41,"h":104},{"x":44,"h":124},{"x":47,"h":136},{"x":51,"h":120},{"x":55,"h":128},{"x":59,"h":112},{"x":63,"h":134},{"x":67,"h":118},{"x":71,"h":132},{"x":75,"h":108},{"x":79,"h":124},{"x":83,"h":120},{"x":87,"h":136},{"x":91,"h":114},{"x":95,"h":100},{"x":99,"h":124},{"x":103,"h":134},{"x":107,"h":108},{"x":111,"h":130},{"x":115,"h":118},{"x":119,"h":134},{"x":123,"h":114},{"x":127,"h":124},{"x":131,"h":102},{"x":135,"h":118},{"x":139,"h":100},{"x":143,"h":126},{"x":147,"h":112},{"x":151,"h":132},{"x":155,"h":138},{"x":159,"h":118},{"x":163,"h":128},{"x":167,"h":96},{"x":171,"h":122},{"x":175,"h":110},{"x":179,"h":130},{"x":181,"h":100},{"x":185,"h":120},{"x":189,"h":134},{"x":193,"h":116},{"x":197,"h":128},{"x":201,"h":106},{"x":205,"h":124},{"x":209,"h":116},{"x":213,"h":110},{"x":217,"h":126},{"x":221,"h":134},{"x":225,"h":122},{"x":229,"h":138},{"x":233,"h":130},{"x":237,"h":134},{"x":241,"h":124},{"x":245,"h":108},{"x":249,"h":94},{"x":251,"h":88},{"x":254,"h":108},{"x":258,"h":128},{"x":262,"h":134},{"x":266,"h":126},{"x":270,"h":140},{"x":274,"h":132},{"x":278,"h":136},{"x":282,"h":128},{"x":286,"h":120},{"x":290,"h":132},{"x":294,"h":126},{"x":298,"h":122},{"x":302,"h":134},{"x":306,"h":138},{"x":310,"h":126},{"x":314,"h":118},{"x":318,"h":130},{"x":322,"h":124},{"x":326,"h":136},{"x":330,"h":140},{"x":334,"h":132},{"x":338,"h":138},{"x":342,"h":134},{"x":346,"h":140},{"x":350,"h":130},{"x":354,"h":136},{"x":358,"h":122},{"x":362,"h":112},{"x":365,"h":72},{"x":368,"h":96},{"x":372,"h":122},{"x":376,"h":130},{"x":380,"h":118},{"x":384,"h":132},{"x":388,"h":112},{"x":391,"h":100},{"x":394,"h":118},{"x":398,"h":130},{"x":402,"h":136},{"x":406,"h":128},{"x":410,"h":138},{"x":414,"h":140},{"x":418,"h":132},{"x":422,"h":138},{"x":426,"h":124},{"x":430,"h":134},{"x":434,"h":114},{"x":438,"h":130},{"x":442,"h":112},{"x":446,"h":92},{"x":449,"h":84},{"x":452,"h":100},{"x":456,"h":112},{"x":460,"h":126},{"x":464,"h":118},{"x":468,"h":130},{"x":472,"h":124},{"x":476,"h":112},{"x":480,"h":128},{"x":484,"h":106},{"x":488,"h":100},{"x":492,"h":120},{"x":496,"h":132},{"x":500,"h":116},{"x":504,"h":128},{"x":508,"h":108},{"x":512,"h":132},{"x":516,"h":122},{"x":520,"h":134},{"x":524,"h":114},{"x":528,"h":124},{"x":532,"h":106},{"x":536,"h":126},{"x":540,"h":136},{"x":544,"h":120},{"x":548,"h":112},{"x":552,"h":130},{"x":556,"h":118},{"x":560,"h":126},{"x":564,"h":134},{"x":568,"h":128},{"x":572,"h":122},{"x":576,"h":130},{"x":580,"h":118},{"x":584,"h":126},{"x":588,"h":134},{"x":592,"h":118},{"x":596,"h":124},{"x":600,"h":114},{"x":604,"h":128},{"x":608,"h":120},{"x":612,"h":130},{"x":616,"h":110},{"x":620,"h":126},{"x":624,"h":136},{"x":628,"h":116},{"x":632,"h":128},{"x":636,"h":104},{"x":640,"h":124},{"x":644,"h":134},{"x":648,"h":118},{"x":652,"h":110},{"x":656,"h":100},{"x":660,"h":98},{"x":663,"h":108},{"x":667,"h":122},{"x":671,"h":130},{"x":675,"h":114},{"x":679,"h":126},{"x":683,"h":108},{"x":687,"h":128},{"x":691,"h":134},{"x":695,"h":118},{"x":699,"h":130},{"x":703,"h":124},{"x":707,"h":138},{"x":711,"h":128},{"x":715,"h":134},{"x":719,"h":122},{"x":723,"h":138},{"x":727,"h":126},{"x":731,"h":136},{"x":735,"h":122},{"x":739,"h":132},{"x":743,"h":140},{"x":747,"h":128},{"x":751,"h":134},{"x":755,"h":120},{"x":759,"h":130},{"x":763,"h":124},{"x":767,"h":136},{"x":771,"h":128},{"x":775,"h":120},{"x":779,"h":132},{"x":783,"h":116},{"x":787,"h":124},{"x":791,"h":108},{"x":795,"h":104},{"x":799,"h":112},{"x":803,"h":124},{"x":807,"h":118},{"x":811,"h":132},{"x":815,"h":128},{"x":819,"h":136},{"x":823,"h":124},{"x":827,"h":132},{"x":831,"h":138},{"x":835,"h":128},{"x":839,"h":136},{"x":843,"h":126},{"x":847,"h":134},{"x":851,"h":138},{"x":855,"h":130},{"x":859,"h":140},{"x":863,"h":132},{"x":867,"h":138},{"x":871,"h":130},{"x":875,"h":140},{"x":879,"h":136},{"x":883,"h":132}],
"r4":[{"x":0,"h":119},{"x":3,"h":136},{"x":6,"h":141},{"x":9,"h":128},{"x":12,"h":134},{"x":16,"h":120},{"x":20,"h":132},{"x":24,"h":112},{"x":28,"h":124},{"x":32,"h":104},{"x":35,"h":146},{"x":38,"h":120},{"x":40,"h":96},{"x":43,"h":128},{"x":46,"h":144},{"x":50,"h":118},{"x":54,"h":132},{"x":58,"h":108},{"x":62,"h":140},{"x":66,"h":116},{"x":70,"h":138},{"x":74,"h":102},{"x":78,"h":130},{"x":82,"h":124},{"x":86,"h":144},{"x":90,"h":110},{"x":94,"h":96},{"x":98,"h":130},{"x":102,"h":140},{"x":106,"h":104},{"x":110,"h":138},{"x":114,"h":118},{"x":118,"h":142},{"x":122,"h":112},{"x":126,"h":128},{"x":130,"h":98},{"x":134,"h":120},{"x":138,"h":96},{"x":142,"h":132},{"x":146,"h":110},{"x":150,"h":140},{"x":154,"h":146},{"x":158,"h":120},{"x":162,"h":134},{"x":166,"h":104},{"x":170,"h":128},{"x":174,"h":112},{"x":178,"h":140},{"x":180,"h":94},{"x":184,"h":126},{"x":188,"h":142},{"x":192,"h":118},{"x":196,"h":136},{"x":200,"h":106},{"x":204,"h":128},{"x":208,"h":118},{"x":212,"h":108},{"x":216,"h":132},{"x":220,"h":140},{"x":224,"h":124},{"x":228,"h":146},{"x":232,"h":136},{"x":236,"h":142},{"x":240,"h":128},{"x":244,"h":112},{"x":248,"h":96},{"x":250,"h":89},{"x":253,"h":110},{"x":256,"h":132},{"x":260,"h":140},{"x":264,"h":128},{"x":268,"h":144},{"x":272,"h":136},{"x":276,"h":142},{"x":280,"h":130},{"x":284,"h":120},{"x":288,"h":138},{"x":292,"h":130},{"x":296,"h":124},{"x":300,"h":138},{"x":304,"h":144},{"x":308,"h":130},{"x":312,"h":120},{"x":316,"h":136},{"x":320,"h":126},{"x":324,"h":142},{"x":328,"h":146},{"x":332,"h":138},{"x":336,"h":144},{"x":340,"h":140},{"x":344,"h":146},{"x":348,"h":136},{"x":352,"h":144},{"x":356,"h":134},{"x":360,"h":126},{"x":364,"h":140},{"x":368,"h":130},{"x":372,"h":120},{"x":376,"h":134},{"x":380,"h":112},{"x":384,"h":138},{"x":388,"h":94},{"x":390,"h":74},{"x":393,"h":96},{"x":396,"h":132},{"x":400,"h":140},{"x":404,"h":130},{"x":408,"h":144},{"x":412,"h":146},{"x":416,"h":138},{"x":420,"h":144},{"x":424,"h":128},{"x":428,"h":140},{"x":432,"h":116},{"x":436,"h":136},{"x":440,"h":120},{"x":444,"h":104},{"x":448,"h":76},{"x":451,"h":96},{"x":454,"h":110},{"x":458,"h":132},{"x":462,"h":122},{"x":466,"h":138},{"x":470,"h":130},{"x":474,"h":116},{"x":478,"h":136},{"x":482,"h":108},{"x":486,"h":96},{"x":490,"h":126},{"x":494,"h":140},{"x":498,"h":120},{"x":502,"h":136},{"x":506,"h":112},{"x":510,"h":140},{"x":514,"h":128},{"x":518,"h":142},{"x":522,"h":118},{"x":526,"h":130},{"x":530,"h":108},{"x":534,"h":134},{"x":538,"h":144},{"x":542,"h":126},{"x":546,"h":114},{"x":550,"h":138},{"x":554,"h":120},{"x":558,"h":132},{"x":562,"h":142},{"x":566,"h":136},{"x":570,"h":128},{"x":574,"h":138},{"x":578,"h":124},{"x":582,"h":132},{"x":586,"h":140},{"x":590,"h":122},{"x":594,"h":130},{"x":598,"h":118},{"x":602,"h":136},{"x":606,"h":124},{"x":610,"h":138},{"x":614,"h":112},{"x":618,"h":132},{"x":622,"h":144},{"x":626,"h":120},{"x":630,"h":136},{"x":634,"h":106},{"x":638,"h":130},{"x":642,"h":142},{"x":646,"h":122},{"x":650,"h":112},{"x":654,"h":96},{"x":657,"h":72},{"x":660,"h":64},{"x":663,"h":98},{"x":666,"h":128},{"x":670,"h":138},{"x":674,"h":118},{"x":678,"h":132},{"x":682,"h":110},{"x":686,"h":136},{"x":690,"h":140},{"x":694,"h":122},{"x":698,"h":136},{"x":702,"h":128},{"x":706,"h":144},{"x":710,"h":132},{"x":714,"h":140},{"x":718,"h":126},{"x":722,"h":144},{"x":726,"h":130},{"x":730,"h":142},{"x":734,"h":128},{"x":738,"h":138},{"x":742,"h":146},{"x":746,"h":132},{"x":750,"h":140},{"x":754,"h":124},{"x":758,"h":136},{"x":762,"h":128},{"x":766,"h":142},{"x":770,"h":134},{"x":774,"h":124},{"x":778,"h":138},{"x":782,"h":120},{"x":786,"h":130},{"x":790,"h":110},{"x":795,"h":99},{"x":798,"h":116},{"x":802,"h":130},{"x":806,"h":122},{"x":810,"h":140},{"x":814,"h":134},{"x":818,"h":144},{"x":822,"h":128},{"x":826,"h":138},{"x":830,"h":142},{"x":834,"h":134},{"x":838,"h":144},{"x":842,"h":132},{"x":846,"h":140},{"x":850,"h":144},{"x":854,"h":136},{"x":858,"h":146},{"x":862,"h":138},{"x":866,"h":144},{"x":870,"h":136},{"x":874,"h":146},{"x":878,"h":142},{"x":883,"h":128}]
},
"vconcat":[
{"width":883,"height":230,"resolve":{"axis":{"x":"independent","y":"independent"}},"layer":[
{"data":{"name":"k1"},"mark":{"type":"line","color":"#1a1a1a","strokeWidth":0.7,"clip":true},"encoding":{"x":{"field":"x","type":"quantitative","title":null,"scale":{"domain":[0,883],"nice":false,"zero":false},"axis":{"orient":"bottom","values":[104,208,311.6,415.4,519.2,623,726.8,830.6]}},"y":{"field":"h","type":"quantitative","title":null,"scale":{"domain":[0,230],"nice":false},"axis":{"orient":"left","values":[28.75,57.5,86.25,115,143.75,172.5,201.25]}}}},
{"data":{"name":"r1"},"mark":{"type":"line","color":"#ff0000","strokeWidth":2,"clip":true},"encoding":{"x":{"field":"x","type":"quantitative","title":null,"scale":{"domain":[0,883],"nice":false,"zero":false},"axis":{"orient":"top","values":[104,208,311.6,415.4,519.2,623,726.8,830.6]}},"y":{"field":"h","type":"quantitative","title":null,"scale":{"domain":[0,230],"nice":false},"axis":{"orient":"right","values":[28.75,57.5,86.25,115,143.75,172.5,201.25]}}}}
]},
{"width":883,"height":230,"resolve":{"axis":{"x":"independent","y":"independent"}},"layer":[
{"data":{"name":"k2"},"mark":{"type":"line","color":"#1a1a1a","strokeWidth":0.7,"clip":true},"encoding":{"x":{"field":"x","type":"quantitative","title":null,"scale":{"domain":[0,883],"nice":false,"zero":false},"axis":{"orient":"bottom","values":[132.3,353.3,574.3,795.3]}},"y":{"field":"h","type":"quantitative","title":null,"scale":{"domain":[0,230],"nice":false},"axis":{"orient":"left","values":[28.75,57.5,86.25,115,143.75,172.5,201.25]}}}},
{"data":{"name":"r2"},"mark":{"type":"line","color":"#ff0000","strokeWidth":2,"clip":true},"encoding":{"x":{"field":"x","type":"quantitative","title":null,"scale":{"domain":[0,883],"nice":false,"zero":false},"axis":{"orient":"top","values":[132.3,353.3,574.3,795.3]}},"y":{"field":"h","type":"quantitative","title":null,"scale":{"domain":[0,230],"nice":false},"axis":{"orient":"right","values":[28.75,57.5,86.25,115,143.75,172.5,201.25]}}}}
]},
{"width":883,"height":230,"resolve":{"axis":{"x":"independent","y":"independent"}},"layer":[
{"data":{"name":"k3"},"mark":{"type":"line","color":"#1a1a1a","strokeWidth":0.7,"clip":true},"encoding":{"x":{"field":"x","type":"quantitative","title":null,"scale":{"domain":[0,883],"nice":false,"zero":false},"axis":{"orient":"bottom","values":[132.3,353.3,574.3,795.3]}},"y":{"field":"h","type":"quantitative","title":null,"scale":{"domain":[0,230],"nice":false},"axis":{"orient":"left","values":[28.75,57.5,86.25,115,143.75,172.5,201.25]}}}},
{"data":{"name":"r3"},"mark":{"type":"line","color":"#ff0000","strokeWidth":2,"clip":true},"encoding":{"x":{"field":"x","type":"quantitative","title":null,"scale":{"domain":[0,883],"nice":false,"zero":false},"axis":{"orient":"top","values":[132.3,353.3,574.3,795.3]}},"y":{"field":"h","type":"quantitative","title":null,"scale":{"domain":[0,230],"nice":false},"axis":{"orient":"right","values":[28.75,57.5,86.25,115,143.75,172.5,201.25]}}}}
]},
{"width":883,"height":230,"resolve":{"axis":{"x":"independent","y":"independent"}},"layer":[
{"data":{"name":"k4"},"mark":{"type":"line","color":"#1a1a1a","strokeWidth":0.7,"clip":true},"encoding":{"x":{"field":"x","type":"quantitative","title":null,"scale":{"domain":[0,883],"nice":false,"zero":false},"axis":{"orient":"bottom","values":[129.3,344.3,560.3,775.3]}},"y":{"field":"h","type":"quantitative","title":null,"scale":{"domain":[0,230],"nice":false},"axis":{"orient":"left","values":[28.75,57.5,86.25,115,143.75,172.5,201.25]}}}},
{"data":{"name":"r4"},"mark":{"type":"line","color":"#ff0000","strokeWidth":2,"clip":true},"encoding":{"x":{"field":"x","type":"quantitative","title":null,"scale":{"domain":[0,883],"nice":false,"zero":false},"axis":{"orient":"top","values":[129.3,344.3,560.3,775.3]}},"y":{"field":"h","type":"quantitative","title":null,"scale":{"domain":[0,230],"nice":false},"axis":{"orient":"right","values":[28.75,57.5,86.25,115,143.75,172.5,201.25]}}}}
]}
]
}
